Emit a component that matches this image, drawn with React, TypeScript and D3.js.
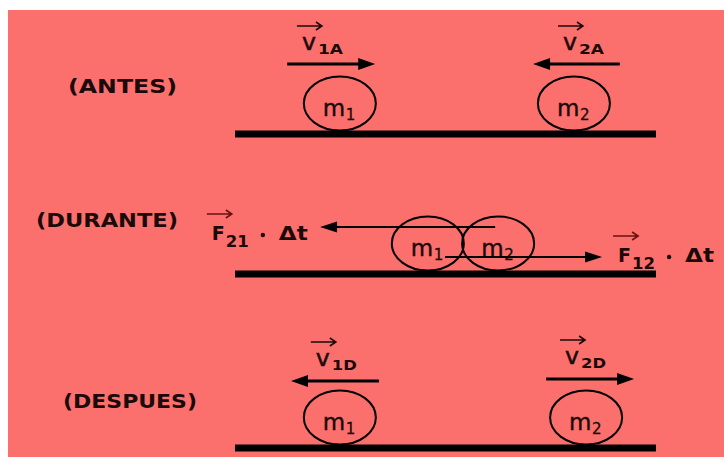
import * as React from 'react'
import * as d3 from 'd3'

// three stages of a 1D collision; positions along the track in % of its length
const panelNames = ['(ANTES)', '(DURANTE)', '(DESPUES)']

const bodyPanel = [0, 0, 1, 1, 2, 2]
const bodyIndex = ['1', '2', '1', '2', '1', '2']
const bodyPos = [24.9, 80.5, 45.8, 62.5, 24.9, 83.4]

const arrowPanel = [0, 0, 1, 1, 2, 2]
const arrowFrom = [12.4, 91.4, 61.8, 49.9, 34.2, 73.9]
const arrowTo = [33.3, 70.8, 20.2, 87.2, 13.3, 94.8]
const arrowHeight = [70, 70, 47, 17, 67, 69]
const arrowSymbol = ['v', 'v', 'F', 'F', 'v', 'v']
const arrowSub = ['1A', '2A', '21', '12', '1D', '2D']
const arrowLabelPos = [15.9, 77.9, -5.5, 91.0, 19.2, 78.4]
const arrowLabelHeight = [84, 84, 34, 12, 82, 84]

export default function App() {
    const W = 724
    const H = 457
    const BG = '#fb706c'
    const INK = '#1a0a0a'
    const FONT = '"DejaVu Sans", Verdana, sans-serif'
    const GROUND_Y = [134, 274, 448]
    const GROUND_W = 7
    const LABEL_X = [68, 36, 63]
    const LABEL_Y = [93, 227, 408]
    const LABEL_W = [109, 142, 134]
    const RX = 36
    const RY = 27

    const x = d3.scaleLinear().domain([0, 100]).range([235, 656])

    const head = (tipX: number, y: number, dir: number, len: number, half: number) => {
        const p = d3.path()
        p.moveTo(tipX, y)
        p.lineTo(tipX - dir * len, y - half)
        p.lineTo(tipX - dir * len, y + half)
        p.closePath()
        return p.toString()
    }

    const overArrow = (x0: number, y: number, color: string) => {
        const p = d3.path()
        p.moveTo(x0, y)
        p.lineTo(x0 + 25, y)
        p.moveTo(x0 + 19, y - 4)
        p.lineTo(x0 + 25, y)
        p.lineTo(x0 + 19, y + 4)
        return <path d={p.toString()} stroke={color} strokeWidth={1.6} fill="none" />
    }

    return <svg width={W} height={H} viewBox={`0 0 ${W} ${H}`}
        style={{ position: 'absolute', left: 0, top: 0, display: 'block' }}>
        <rect x={0} y={0} width={W} height={H} fill="#ffffff" />
        <rect x={8} y={10} width={W - 8} height={H - 10} fill={BG} />

        {panelNames.map((name, i) =>
            <g key={'p' + i}>
                <text x={LABEL_X[i]} y={LABEL_Y[i]} fontFamily={FONT} fontWeight="bold" fontSize={20}
                    fill={INK} textLength={LABEL_W[i]} lengthAdjust="spacingAndGlyphs">{name}</text>
                <line x1={x(0)} x2={x(100)} y1={GROUND_Y[i]} y2={GROUND_Y[i]} stroke="#000" strokeWidth={GROUND_W} />
            </g>
        )}

        {bodyPos.map((pos, i) => {
            const cx = x(pos)
            const cy = GROUND_Y[bodyPanel[i]] - GROUND_W / 2 - RY
            return <g key={'b' + i}>
                <ellipse cx={cx} cy={cy} rx={RX} ry={RY} fill="none" stroke="#000" strokeWidth={2} />
                <text x={cx - 17} y={cy + 12} fontFamily={FONT} fontSize={23} fill={INK}
                    stroke={INK} strokeWidth={0.4}>m</text>
                <text x={cx + 6} y={cy + 16} fontFamily={FONT} fontSize={15} fill={INK}
                    stroke={INK} strokeWidth={0.3}>{bodyIndex[i]}</text>
            </g>
        })}

        {arrowFrom.map((from, i) => {
            const g = GROUND_Y[arrowPanel[i]]
            const y = g - arrowHeight[i]
            const x0 = x(from)
            const x1 = x(arrowTo[i])
            const dir = x1 > x0 ? 1 : -1
            const isF = arrowSymbol[i] === 'F'
            const lw = isF ? 2 : 3
            const len = 17
            const half = isF ? 5.5 : 6
            const lx = x(arrowLabelPos[i])
            const by = g - arrowLabelHeight[i]
            return <g key={'a' + i}>
                <line x1={x0} x2={x1 - dir * (len - 2)} y1={y} y2={y} stroke="#000" strokeWidth={lw} />
                <path d={head(x1, y, dir, len, half)} fill="#000" />
                {isF ? <g>
                    {overArrow(lx - 5, by - 26, '#6b1010')}
                    <text x={lx} y={by} fontFamily={FONT} fontWeight="bold" fontSize={19} fill={INK}>F</text>
                    <text x={lx + 14} y={by + 7} fontFamily={FONT} fontWeight="bold" fontSize={15} fill={INK}
                        textLength={23} lengthAdjust="spacingAndGlyphs">{arrowSub[i]}</text>
                    <circle cx={lx + 51} cy={by - 5} r={2.2} fill={INK} />
                    <text x={lx + 67} y={by} fontFamily={FONT} fontWeight="bold" fontSize={19} fill={INK}
                        textLength={29} lengthAdjust="spacingAndGlyphs">Δt</text>
                </g> : <g>
                    {overArrow(lx - 5, by - 24, INK)}
                    <text x={lx} y={by} fontFamily={FONT} fontSize={23} fill={INK}
                        stroke={INK} strokeWidth={0.5}
                        textLength={14} lengthAdjust="spacingAndGlyphs">v</text>
                    <text x={lx + 16} y={by + 4} fontFamily={FONT} fontWeight="bold" fontSize={14} fill={INK}
                        textLength={25} lengthAdjust="spacingAndGlyphs">{arrowSub[i]}</text>
                </g>}
            </g>
        })}
    </svg>
}
